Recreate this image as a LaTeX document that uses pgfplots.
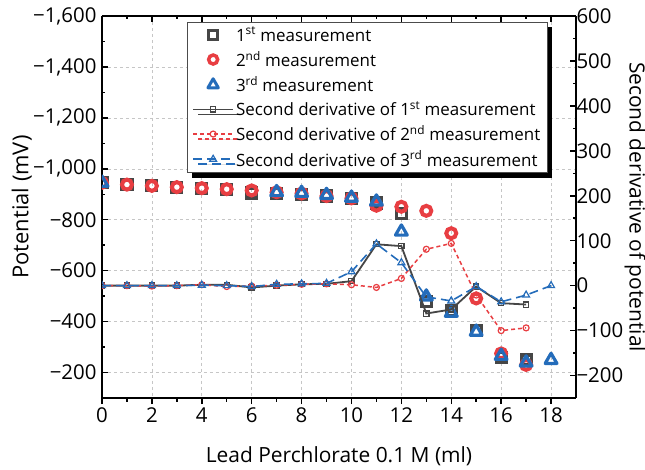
\documentclass[border=0pt]{standalone}
\usepackage{fontspec}
\setmainfont{Open Sans}
\usepackage{pgfplots}
\pgfplotsset{compat=1.18}
\usetikzlibrary{calc,shadows}

\definecolor{cgray}{RGB}{70,70,70}
\definecolor{cred}{RGB}{232,62,66}
\definecolor{cblue}{RGB}{36,108,186}

\pgfplotsset{
  base/.style={
    width=474bp, height=382bp, scale only axis,
    xmin=0, xmax=19,
    axis line style={line width=2.2bp, -},
    tick style={line width=1.5bp, black},
    major tick length=6bp, minor tick length=3.5bp,
    tick label style={font=\fontsize{20.5}{24}\selectfont},
    label style={font=\fontsize{21}{25}\selectfont},
    /pgf/number format/assume math mode=true,
    clip marker paths=true,
    xtick={0,2,...,18}, minor x tick num=1, minor y tick num=1,
  },
}

\begin{document}
\begin{tikzpicture}
% measured potentials (left axis)
\begin{axis}[base, name=ax,
  y dir=reverse, ymin=-1600, ymax=-100,
  axis x line*=bottom, axis y line*=left,
  xtick align=outside, ytick align=inside,
  ytick={-1600,-1400,...,-200},
  yticklabels={{−1,600},{−1,400},{−1,200},{−1,000},{−800},{−600},{−400},{−200}},
  yticklabel style={xshift=-2bp},
  grid=major, grid style={dashed, gray!45, line width=0.6bp},
  xlabel={Lead Perchlorate 0.1 M (ml)},
  ylabel={Potential (mV)},
  xlabel style={at={(axis description cs:0.5,-0.152)}, anchor=center},
  ylabel style={at={(axis description cs:-0.169,0.5)}, anchor=center,
    font=\fontsize{22}{26}\selectfont},
]
\addplot[only marks, mark=square, mark size=5bp, cgray,
  mark options={line width=3.2bp, fill=none}]
  coordinates {
    (0,-945) (1,-938) (2,-933) (3,-928) (4,-924) (5,-920) (6,-905)
    (7,-902) (8,-900) (9,-893) (10,-882) (11,-866) (12,-825) (13,-478)
    (14,-445) (15,-365) (16,-258) (17,-249)
  };
\addplot[only marks, mark=o, mark size=5bp, cred,
  mark options={line width=4bp, fill=none}]
  coordinates {
    (0,-945) (1,-938) (2,-933) (3,-928) (4,-924) (5,-920) (6,-915)
    (7,-908) (8,-903) (9,-893) (10,-884) (11,-855) (12,-851) (13,-835)
    (14,-747) (15,-491) (16,-275) (17,-230)
  };
\addplot[only marks, mark=triangle, mark size=6.8bp, cblue,
  mark options={line width=3.2bp, fill=none, line join=round}]
  coordinates {
    (0,-945) (7,-908) (8,-905) (9,-897) (10,-886) (11,-871) (12,-753)
    (13,-498) (14,-434) (15,-360) (16,-265) (17,-239) (18,-249)
  };
\end{axis}

% second derivatives (right axis)
\begin{axis}[base,
  ymin=-250, ymax=600,
  axis x line*=top, axis y line*=right,
  tick align=inside, xticklabels={},
  ytick={-200,-100,...,600},
  yticklabels={{−200},{−100},0,100,200,300,400,500,600},
  yticklabel style={xshift=-3bp},
  ylabel={Second derivative of potential},
  ylabel style={at={(axis description cs:1.1245,0.5)}, anchor=center, rotate=180},
  legend style={at={(0.179,0.985)}, anchor=north west,
    font=\fontsize{17}{20.5}\selectfont, draw=gray!60!black, line width=0.8bp,
    fill=white, drop shadow={shadow xshift=5bp, shadow yshift=-5bp, fill=black, opacity=1},
    row sep=4.5bp, inner xsep=5bp, inner ysep=3bp, cells={anchor=west}},
  legend image code/.code={\draw[mark repeat=2, mark phase=2, #1]
    plot coordinates {(0bp,0bp) (20bp,0bp) (40bp,0bp)};},
]
\addlegendimage{only marks, mark=square, mark size=4.5bp, cgray, mark options={line width=3bp, fill=none}}
\addlegendentry{1\textsuperscript{st} measurement}
\addlegendimage{only marks, mark=o, mark size=4.5bp, cred, mark options={line width=3.5bp, fill=none}}
\addlegendentry{2\textsuperscript{nd} measurement}
\addlegendimage{only marks, mark=triangle, mark size=6bp, cblue, mark options={line width=3bp, fill=none, line join=round}}
\addlegendentry{3\textsuperscript{rd} measurement}

\addplot[cgray, line width=1.8bp, mark=square, mark size=2.6bp,
  mark options={solid, line width=1.2bp, fill=white}]
  coordinates {
    (0,0) (1,0) (2,0) (3,0) (4,2) (5,2) (6,-4) (7,0) (8,3) (9,4)
    (10,10) (11,92) (12,88) (13,-62) (14,-53) (15,-2) (16,-39) (17,-42)
  };
\addlegendentry{Second derivative of 1\textsuperscript{st} measurement}
\addplot[cred, line width=1.5bp, dash pattern=on 4bp off 3bp, mark=o, mark size=3bp,
  mark options={solid, line width=1.2bp, fill=white}]
  coordinates {
    (0,0) (1,0) (2,-1) (3,0) (4,2) (5,-2) (6,-1) (7,1) (8,3) (9,4)
    (10,2) (11,-4) (12,16) (13,81) (14,94) (15,-21) (16,-100) (17,-94)
  };
\addlegendentry{Second derivative of 2\textsuperscript{nd} measurement}
\addplot[cblue, line width=1.6bp, dash pattern=on 9bp off 5bp, mark=triangle, mark size=4bp,
  mark options={solid, line width=1.2bp, fill=white}]
  coordinates {
    (0,0) (1,0) (2,0) (3,0) (4,1) (5,0) (6,-2) (7,3) (8,4) (9,5)
    (10,31) (11,93) (12,51) (13,-25) (14,-34) (15,-2) (16,-36) (17,-21) (18,0)
  };
\addlegendentry{Second derivative of 3\textsuperscript{rd} measurement}
\end{axis}

\pgfresetboundingbox
\path[use as bounding box] ($(ax.south west)+(-102bp,-72bp)$) rectangle ($(ax.north east)+(69bp,16bp)$);
\end{tikzpicture}
\end{document}
